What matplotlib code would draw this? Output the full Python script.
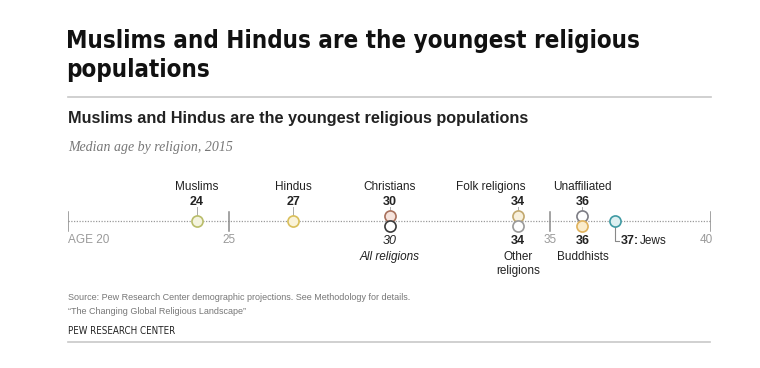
import matplotlib
matplotlib.use("Agg")
import matplotlib.pyplot as plt
from matplotlib.lines import Line2D

plt.rcParams['font.family'] = ['Liberation Sans', 'DejaVu Sans']

# data
religions = ["Muslims", "Hindus", "Christians", "All religions", "Folk religions",
             "Other religions", "Unaffiliated", "Buddhists", "Jews"]
median_age = [24, 27, 30, 30, 34, 34, 36, 36, 37]
tick_ages = [20, 25, 35, 40]
tick_labels = ["AGE 20", "25", "35", "40"]

# styling / layout per group
edge = {"Muslims": "#b9bd6a", "Hindus": "#d9bf5a", "Christians": "#a8705c",
        "All religions": "#3a3a3a", "Folk religions": "#c2a86e",
        "Other religions": "#9a9a9a", "Unaffiliated": "#7d7d85",
        "Buddhists": "#e0b25c", "Jews": "#3f9aa3"}
face = {"Muslims": "#f4f4df", "Hindus": "#faf3d9", "Christians": "#f6e3dc",
        "All religions": "#ffffff", "Folk religions": "#f8f0dc",
        "Other religions": "#ffffff", "Unaffiliated": "#ffffff",
        "Buddhists": "#fbeccb", "Jews": "#def0f1"}
# where the dot sits (pixel y) and where its label goes
dot_y = {"Muslims": 221.5, "Hindus": 221.5, "Christians": 216.5, "All religions": 226.5,
         "Folk religions": 216.5, "Other religions": 226.5, "Unaffiliated": 216.5,
         "Buddhists": 226.5, "Jews": 221.5}
above = ["Muslims", "Hindus", "Christians", "Folk religions", "Unaffiliated"]
below = ["All religions", "Other religions", "Buddhists"]
below_text = {"All religions": "All religions", "Other religions": "Other\nreligions",
              "Buddhists": "Buddhists"}

W, H = 760, 368
fig = plt.figure(figsize=(W / 100, H / 100), dpi=100)
fig.patch.set_facecolor("white")


def fx(x):
    return x / W


def fy(y):
    return 1 - y / H


# full-figure overlay for rules
ov = fig.add_axes([0, 0, 1, 1])
ov.set_xlim(0, W)
ov.set_ylim(H, 0)
ov.axis("off")
ov.add_line(Line2D([68, 711], [97, 97], color="#c8c8c8", lw=1.2))
ov.add_line(Line2D([68, 710], [342, 342], color="#c8c8c8", lw=1.2))

# titles
cond = dict(family="DejaVu Sans", stretch="condensed")
fig.text(fx(66), fy(41), "Muslims and Hindus are the youngest religious",
         weight="bold", fontsize=17.3, va="center", ha="left", color="#111111", **cond)
fig.text(fx(66), fy(70), "populations",
         weight="bold", fontsize=17.3, va="center", ha="left", color="#111111", **cond)
fig.text(fx(68), fy(118), "Muslims and Hindus are the youngest religious populations",
         weight="bold", fontsize=11.7, va="center", color="#222222")
fig.text(fx(68), fy(148), "Median age by religion, 2015",
         family=["Liberation Serif", "DejaVu Serif"], style="italic",
         fontsize=10, va="center", color="#777777")

# dot plot axes: x in ages, y in figure pixels
top, bot = 160, 285
ax = fig.add_axes([fx(68), fy(bot), fx(711) - fx(68), (bot - top) / H])
ax.set_xlim(20, 40)
ax.set_ylim(bot, top)
ax.axis("off")

axis_y = 221.5
ax.plot([20, 40], [axis_y, axis_y], color="#9a9a9a", lw=0.9, ls=(0, (1, 1.2)), zorder=1)
for t, lab in zip(tick_ages, tick_labels):
    ax.plot([t, t], [212, 231], color="#8a8a8a", lw=1.1, zorder=2)
    ha, xt = "center", t
    if t == 20:
        ha = "left"
    elif t == 40:
        ha, xt = "right", t + 0.05
    ax.text(xt, 240, lab, ha=ha, va="center", fontsize=8.5, color="#9a9a9a")

for name, age in zip(religions, median_age):
    y = dot_y[name]
    ax.plot([age], [y], marker="o", ms=8, mew=1.2, mec=edge[name], mfc=face[name],
            ls="none", zorder=4)
    if name in above:
        ax.plot([age, age], [207, y - 5], color="#aaaaaa", lw=0.7, zorder=3)
        if name == "Folk religions":
            # label pulled left so it clears "Unaffiliated"
            ax.text(age + 0.22, 187, name, ha="right", va="center", fontsize=8.5,
                    color="#222222")
        else:
            ax.text(age, 187, name, ha="center", va="center", fontsize=8.5, color="#222222")
        ax.text(age, 202, str(age), ha="center", va="center", fontsize=9,
                weight="bold", color="#222222")
    elif name in below:
        if name == "All religions":
            ax.text(age, 241, str(age), ha="center", va="center", fontsize=9,
                    style="italic", color="#222222")
            ax.text(age, 257, below_text[name], ha="center", va="center", fontsize=8.5,
                    style="italic", color="#222222")
        else:
            ax.text(age, 241, str(age), ha="center", va="center", fontsize=9,
                    weight="bold", color="#222222")
            for i, ln in enumerate(below_text[name].split("\n")):
                ax.text(age, 257 + 14 * i, ln, ha="center", va="center", fontsize=8.5,
                        color="#222222")
    else:
        # Jews: leader line then label to the right
        ax.plot([age, age, age + 0.15], [y + 5, 241, 241], color="#888888", lw=0.8, zorder=3)
        ax.text(age + 0.2, 241, f"{age}:", ha="left", va="center", fontsize=9,
                weight="bold", color="#222222")
        ax.text(age + 0.78, 241, name, ha="left", va="center", fontsize=8.5,
                color="#222222")

# footer
fig.text(fx(68), fy(297), "Source: Pew Research Center demographic projections. See Methodology for details.",
         fontsize=6.45, va="center", color="#777777")
fig.text(fx(68), fy(311), "\u201cThe Changing Global Religious Landscape\u201d",
         fontsize=6.45, va="center", color="#777777")
fig.text(fx(68), fy(331), "PEW RESEARCH CENTER", fontsize=7, va="center",
         color="#222222", **cond)

fig.savefig("out.png", dpi=100, facecolor="white")
